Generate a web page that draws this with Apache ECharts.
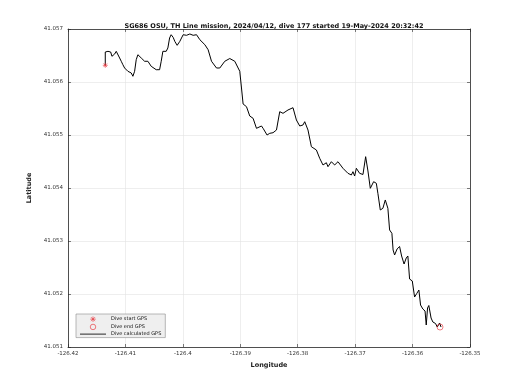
<!DOCTYPE html>
<html><head><meta charset="utf-8">
<script src="https://cdn.jsdelivr.net/npm/echarts@6/dist/echarts.min.js"></script>
<style>html,body{margin:0;padding:0;background:#fff}#c{width:520px;height:390px}</style>
</head><body><div id="c"></div>
<script>
const titleText = 'SG686 OSU, TH Line mission, 2024/04/12, dive 177 started 19-May-2024 20:32:42';
const xTicks = [-126.42, -126.41, -126.4, -126.39, -126.38, -126.37, -126.36, -126.35];
const yTicks = [41.051, 41.052, 41.053, 41.054, 41.055, 41.056, 41.057];
const diveStart = [[-126.41351, 41.056315]];
const diveEnd = [[-126.35522, 41.051377]];
const lon = [-126.41351,-126.41351,-126.41304,-126.41257,-126.41235,-126.41217,-126.41188,-126.4116,-126.4113,-126.41101,
-126.41073,-126.41044,-126.41014,-126.40986,-126.40957,-126.40927,-126.40899,-126.4087,-126.4084,-126.40812,
-126.40783,-126.40725,-126.40696,-126.40666,-126.40638,-126.40609,-126.40551,-126.40522,-126.40464,-126.40435,
-126.40405,-126.40377,-126.40348,-126.40318,-126.4029,-126.40261,-126.40231,-126.40204,-126.40169,-126.40139,
-126.40099,-126.40052,-126.39995,-126.39936,-126.39878,-126.39821,-126.39762,-126.39704,-126.39617,-126.3956,
-126.39501,-126.39414,-126.39357,-126.3927,-126.39183,-126.39096,-126.39009,-126.38979,-126.38951,-126.38892,
-126.38835,-126.38777,-126.38718,-126.38631,-126.38603,-126.38534,-126.38487,-126.3843,-126.3837,-126.38313,
-126.38256,-126.38169,-126.38082,-126.38023,-126.37965,-126.37908,-126.37878,-126.37821,-126.37762,-126.37675,
-126.37617,-126.3756,-126.37501,-126.37473,-126.37414,-126.37357,-126.37299,-126.37212,-126.37125,-126.37066,
-126.37038,-126.37009,-126.36979,-126.36922,-126.36864,-126.36817,-126.36777,-126.36736,-126.36678,-126.36631,
-126.36604,-126.36562,-126.36517,-126.36475,-126.3643,-126.364,-126.3636,-126.36339,-126.36313,-126.3627,
-126.36226,-126.36191,-126.36148,-126.3611,-126.36082,-126.36052,-126.36005,-126.35965,-126.35925,-126.3589,
-126.35861,-126.35821,-126.35783,-126.35762,-126.35739,-126.35717,-126.35678,-126.35647,-126.356,-126.3557,
-126.3553,-126.35504];
const lat = [41.056315,41.056566,41.056579,41.056566,41.056485,41.056466,41.056528,41.056579,41.056566,41.056453,
41.056391,41.056326,41.056264,41.056232,41.056202,41.056232,41.05617,41.056108,41.056202,41.056421,
41.056515,41.056453,41.056453,41.056391,41.056358,41.056391,41.056296,41.056326,41.056232,41.056202,
41.056232,41.056391,41.056579,41.056609,41.056579,41.056642,41.05683,41.056892,41.056843,41.056764,
41.056692,41.056768,41.056892,41.056881,41.056906,41.056881,41.056892,41.056798,41.056704,41.056609,
41.056391,41.056264,41.056264,41.056391,41.056443,41.056391,41.056202,41.055887,41.055585,41.055534,
41.055358,41.055315,41.055126,41.05517,41.055126,41.055,41.055032,41.055043,41.055094,41.05544,
41.055409,41.055472,41.055515,41.055283,41.05517,41.055189,41.055251,41.055094,41.054779,41.054717,
41.05456,41.054434,41.054477,41.054402,41.054496,41.054434,41.054496,41.054372,41.054277,41.054245,
41.054308,41.054226,41.054372,41.054277,41.054255,41.054591,41.054321,41.053994,41.054119,41.054089,
41.0539,41.053585,41.053617,41.053774,41.053617,41.053208,41.053145,41.05283,41.052736,41.052849,
41.052896,41.052717,41.052566,41.052679,41.052717,41.052283,41.052245,41.051943,41.052013,41.052075,
41.051792,41.051717,41.051679,41.051415,41.051736,41.051783,41.051547,41.051472,41.051443,41.051377,
41.051453,41.051377];

const track = lon.map((v, i) => [v, lat[i]]);
const FONT = 'DejaVu Sans';
const axisCol = '#262626';
const gridCol = '#e3e3e3';
const red = '#e8333a';
const xMin = xTicks[0], xMax = xTicks[xTicks.length - 1];
const yMin = yTicks[0], yMax = yTicks[yTicks.length - 1];
const fmtX = v => String(parseFloat(v.toFixed(2)));
const fmtY = v => v.toFixed(3);
const asterisk = 'path://M0,-5L0,5M-5,0L5,0M-3.6,-3.6L3.6,3.6M-3.6,3.6L3.6,-3.6';
const lineIcon = 'path://M0,0L26,0L26,0.9L0,0.9Z';

function xAx(pos, show) {
  return {
    type: 'value', position: pos, min: xMin, max: xMax, interval: 0.01,
    axisLine: { show: true, onZero: false, lineStyle: { color: axisCol, width: 0.8 } },
    axisTick: { show: true, inside: true, length: 3, lineStyle: { color: axisCol, width: 0.6 } },
    axisLabel: { show: show, formatter: fmtX, fontFamily: FONT, fontSize: 5.5, color: '#333', margin: 4 },
    splitLine: { show: show, lineStyle: { color: gridCol, width: 0.6 } },
    name: show ? 'Longitude' : '', nameLocation: 'middle', nameGap: 13,
    nameTextStyle: { fontFamily: FONT, fontSize: 6.5, fontWeight: 'bold', color: '#222' }
  };
}
function yAx(pos, show) {
  return {
    type: 'value', position: pos, min: yMin, max: yMax, interval: 0.001,
    axisLine: { show: true, onZero: false, lineStyle: { color: axisCol, width: 0.8 } },
    axisTick: { show: true, inside: true, length: 3, lineStyle: { color: axisCol, width: 0.6 } },
    axisLabel: { show: show, formatter: fmtY, fontFamily: FONT, fontSize: 5.5, color: '#333', margin: 5 },
    splitLine: { show: show, lineStyle: { color: gridCol, width: 0.6 } },
    name: show ? 'Latitude' : '', nameLocation: 'middle', nameGap: 27,
    nameTextStyle: { fontFamily: FONT, fontSize: 6.5, fontWeight: 'bold', color: '#222' }
  };
}

const chart = echarts.init(document.getElementById('c'), null, { renderer: 'canvas' });
chart.setOption({
  animation: false,
  backgroundColor: '#fff',
  title: {
    text: titleText, left: 269, textAlign: 'center', top: 18,
    textStyle: { fontFamily: FONT, fontSize: 6.5, fontWeight: 'bold', color: '#111' }
  },
  grid: { left: 68, top: 29, width: 402, height: 318, containLabel: false },
  xAxis: [xAx('bottom', true), xAx('top', false)],
  yAxis: [yAx('left', true), yAx('right', false)],
  legend: {
    orient: 'vertical', left: 76, top: 314,
    backgroundColor: '#efefef', borderColor: '#8a8a8a', borderWidth: 0.6, borderRadius: 0,
    padding: [2, 4, 1, 4], itemGap: 1.5, itemWidth: 26, itemHeight: 5.5,
    textStyle: { fontFamily: FONT, fontSize: 5, color: '#111' },
    data: [
      { name: 'Dive start GPS', icon: asterisk,
        itemStyle: { color: 'rgba(0,0,0,0)', borderColor: red, borderWidth: 0.8 } },
      { name: 'Dive end GPS', icon: 'circle',
        itemStyle: { color: 'rgba(0,0,0,0)', borderColor: red, borderWidth: 0.8 } },
      { name: 'Dive calculated GPS', icon: lineIcon,
        itemStyle: { color: '#111', borderWidth: 0 } }
    ]
  },
  series: [
    {
      name: 'Dive start GPS', type: 'scatter', data: diveStart, symbol: asterisk, symbolSize: 5,
      itemStyle: { color: 'rgba(0,0,0,0)', borderColor: red, borderWidth: 0.8 }, z: 5
    },
    {
      name: 'Dive end GPS', type: 'scatter', data: diveEnd, symbol: 'circle', symbolSize: 6,
      itemStyle: { color: 'rgba(0,0,0,0)', borderColor: red, borderWidth: 0.8 }, z: 5
    },
    {
      name: 'Dive calculated GPS', type: 'line', data: track, symbol: 'none', showSymbol: false,
      lineStyle: { color: '#000', width: 1 }, itemStyle: { color: '#000' }, z: 3
    }
  ]
});
</script></body></html>
